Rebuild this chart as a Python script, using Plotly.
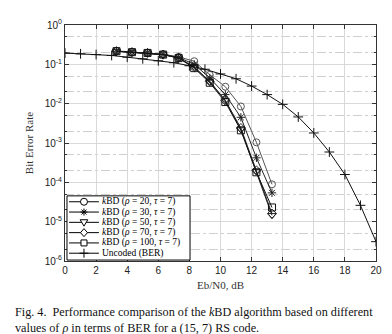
import plotly.graph_objects as go

# ---- data ----
snr_kbd = [3.31, 4.31, 5.31, 6.31, 7.31, 8.31, 9.31, 10.31, 11.31, 12.31, 13.31]
ber_rho20 = [0.22, 0.205, 0.196, 0.18, 0.155, 0.12, 0.054, 0.027, 0.0085, 0.00104, 8.9e-5]
ber_rho30 = [0.216, 0.204, 0.195, 0.178, 0.15, 0.1, 0.045, 0.017, 0.0045, 4.2e-4, 5.4e-5]
ber_rho50 = [0.216, 0.204, 0.195, 0.177, 0.145, 0.085, 0.036, 0.012, 0.0022, 1.9e-4, 1.45e-5]
ber_rho70 = [0.216, 0.204, 0.195, 0.177, 0.146, 0.085, 0.037, 0.012, 0.0024, 2.0e-4, 1.6e-5]
ber_rho100 = [0.216, 0.204, 0.195, 0.177, 0.144, 0.08, 0.034, 0.011, 0.0021, 1.8e-4, 2.3e-5]

snr_unc = [0, 1, 2, 3, 4, 5, 6, 7, 8, 9, 10, 11, 12, 13, 14, 15, 16, 17, 18, 19, 20]
ber_unc = [0.193, 0.185, 0.177, 0.168, 0.152, 0.138, 0.123, 0.11, 0.092, 0.075, 0.057,
           0.043, 0.028, 0.017, 0.0096, 0.0046, 0.0018, 5.9e-4, 1.58e-4, 2.6e-5, 3.1e-6]

labels = [
    "<i>k</i>BD (<i>ρ</i> = 20, <i>τ</i> = 7)",
    "<i>k</i>BD (<i>ρ</i> = 30, <i>τ</i> = 7)",
    "<i>k</i>BD (<i>ρ</i> = 50, <i>τ</i> = 7)",
    "<i>k</i>BD (<i>ρ</i> = 70, <i>τ</i> = 7)",
    "<i>k</i>BD (<i>ρ</i> = 100, <i>τ</i> = 7)",
    "Uncoded (BER)",
]
x_ticks = [0, 2, 4, 6, 8, 10, 12, 14, 16, 18, 20]
y_ticks = [1, 1e-1, 1e-2, 1e-3, 1e-4, 1e-5, 1e-6]
y_ticktext = ["10<sup>0</sup>", "10<sup>-1</sup>", "10<sup>-2</sup>", "10<sup>-3</sup>",
              "10<sup>-4</sup>", "10<sup>-5</sup>", "10<sup>-6</sup>"]

serif = "Liberation Serif"
sans = "Liberation Sans"

symbols = ["circle-open", "asterisk-open", "triangle-down-open", "diamond-open",
           "square-open", "cross-thin-open"]
colors = ["#555555", "#222222", "#222222", "#222222", "#111111", "#111111"]
xs_all = [snr_kbd] * 5 + [snr_unc]
ys_all = [ber_rho20, ber_rho30, ber_rho50, ber_rho70, ber_rho100, ber_unc]

fig = go.Figure()
for xs, ys, sym, col, name in zip(xs_all, ys_all, symbols, colors, labels):
    fig.add_trace(go.Scatter(
        x=xs, y=ys, mode="lines+markers", name=name, showlegend=False,
        line=dict(color=col, width=1),
        marker=dict(symbol=sym, size=7, color=col, line=dict(color=col, width=1)),
    ))

# ---- compact legend drawn in the plot area (paper fractions + pixel glyphs) ----
leg_x0, leg_x1, leg_y0, leg_y1 = 0.0064, 0.402, 0.004, 0.276
line_x0, line_x1, mark_x, text_x = 0.013, 0.109, 0.061, 0.114
row_y0, row_step = 0.251, 0.0436

glyph_paths = {
    "circle-open": None,
    "asterisk-open": "M-3.5,0 L3.5,0 M0,-3.5 L0,3.5 M-2.5,-2.5 L2.5,2.5 M-2.5,2.5 L2.5,-2.5",
    "triangle-down-open": "M-3.8,2.6 L3.8,2.6 L0,-3.8 Z",
    "diamond-open": "M0,4 L3.5,0 L0,-4 L-3.5,0 Z",
    "square-open": "M-3,-3 L3,-3 L3,3 L-3,3 Z",
    "cross-thin-open": "M-4.5,0 L4.5,0 M0,-4.5 L0,4.5",
}

shapes = [dict(type="rect", xref="paper", yref="paper",
               x0=leg_x0, x1=leg_x1, y0=leg_y0, y1=leg_y1,
               line=dict(color="black", width=1), fillcolor="white", layer="above")]
for i, (sym, name) in enumerate(zip(symbols, labels)):
    ry = row_y0 - i * row_step
    shapes.append(dict(type="line", xref="paper", yref="paper",
                       x0=line_x0, x1=line_x1, y0=ry, y1=ry,
                       line=dict(color="black", width=1), layer="above"))
    common = dict(xref="paper", yref="paper", xsizemode="pixel", ysizemode="pixel",
                  xanchor=mark_x, yanchor=ry, layer="above",
                  line=dict(color="black", width=1), fillcolor="white")
    if glyph_paths[sym] is None:
        shapes.append(dict(type="circle", x0=-3.5, x1=3.5, y0=-3.5, y1=3.5, **common))
    else:
        shapes.append(dict(type="path", path=glyph_paths[sym], **common))
    fig.add_annotation(xref="paper", yref="paper", x=text_x, y=ry, xanchor="left",
                       yanchor="middle", showarrow=False, text=name,
                       font=dict(family=serif, size=9.5, color="black"))

grid = "#d9d9d9"
fig.update_layout(
    width=392, height=334,
    margin=dict(l=57, r=24, t=10, b=81),
    paper_bgcolor="white", plot_bgcolor="white",
    showlegend=False,
    shapes=shapes,
    xaxis=dict(
        range=[0, 20], tickvals=x_ticks, ticktext=[str(v) for v in x_ticks],
        showgrid=True, gridcolor=grid, gridwidth=1,
        showline=True, linecolor="#333333", linewidth=1, mirror="allticks",
        ticks="inside", ticklen=4, tickcolor="#333333",
        tickfont=dict(family=sans, size=10, color="#222222"),
        title=dict(text="Eb/N0, dB", font=dict(family=serif, size=11, color="#333333"), standoff=6),
        zeroline=False,
    ),
    yaxis=dict(
        type="log", range=[-6, 0], tickvals=y_ticks, ticktext=y_ticktext,
        showgrid=True, gridcolor=grid, gridwidth=1,
        showline=True, linecolor="#333333", linewidth=1, mirror="allticks",
        ticks="inside", ticklen=4, tickcolor="#333333",
        tickfont=dict(family=sans, size=10, color="#222222"),
        minor=dict(showgrid=True, gridcolor="#cfcfcf", griddash="dashdot", gridwidth=1,
                   ticks="inside", ticklen=2, tickcolor="#333333"),
        title=dict(text="Bit Error Rate", font=dict(family=serif, size=11, color="#333333"), standoff=8),
        zeroline=False,
    ),
)

fig.add_annotation(
    xref="paper", yref="paper", x=-52/311, y=-0.18, xanchor="left", yanchor="top",
    align="left", showarrow=False,
    text=("Fig. 4.  Performance comparison of the <i>k</i>BD algorithm based on different<br>"
          "values of <i>ρ</i> in terms of BER for a (15, 7) RS code."),
    font=dict(family=serif, size=12.2, color="#111111"),
)

fig.write_html("out.html")
